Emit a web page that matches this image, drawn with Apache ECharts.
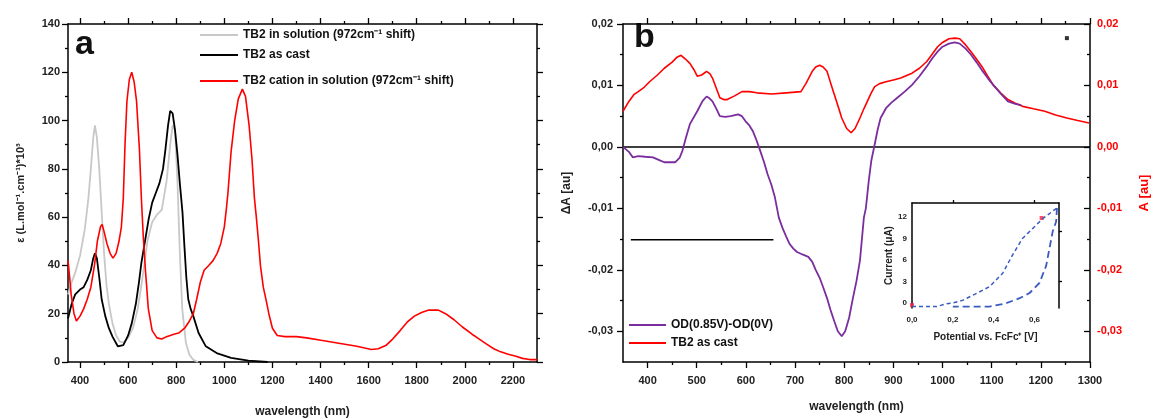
<!DOCTYPE html>
<html><head><meta charset="utf-8">
<script src="https://cdn.jsdelivr.net/npm/echarts@6/dist/echarts.min.js"></script>
<style>html,body{margin:0;padding:0;background:#fff}#c{width:1158px;height:419px}</style>
</head><body><div id="c"></div>
<script>
// ---------- Panel a data ----------
const solWl  = [350,365,380,400,420,435,445,455,462,470,480,490,500,510,520,535,550,565,580,600,620,640,660,680,700,720,740,760,775,785,795,805,815,825,840,855,870,890];
const solEps = [28,33,37,44,55,68,80,93,98,93,80,62,45,32,24,16,11,8.5,8,10,14,22,35,50,58,61,63,75,90,98,96,75,45,22,8,3,1,0];
const castWl  = [350,365,380,400,415,430,445,455,462,470,480,490,505,520,535,557,580,600,615,632,645,655,670,685,700,715,730,745,755,766,775,785,795,805,815,826,834,842,850,860,871,893,923,968,1028,1100,1180];
const castEps = [18,24,28,30,31,34,38,43,45,43,35,26,19,14,10.5,6.5,7,11,16,24,33,41,50,59,66,70,74,80,88,98,104,103,96,86,74,62,48,35,26,22,19,12,6.5,3.7,1.7,0.6,0];
const catWl  = [350,357,363,375,385,400,415,430,445,460,472,485,492,500,512,525,537,550,562,572,580,587,595,605,615,625,635,647,655,663,672,684,700,720,740,760,790,810,835,855,871,885,900,916,935,953,970,985,1000,1008,1015,1028,1043,1058,1075,1088,1103,1115,1125,1133,1142,1150,1162,1175,1185,1200,1220,1252,1300,1342,1402,1476,1551,1611,1640,1671,1700,1731,1760,1790,1820,1850,1890,1920,1955,1990,2030,2060,2089,2120,2149,2180,2209,2240,2270,2300];
const catEps = [42,35,28,20,17,19,22,26,31,40,50,56,57,54,49,45,43,45,50,56,68,90,108,117,120,116,108,88,68,52,38,22,13,10,9.5,10.5,11.5,12,14,17,20,26,33,38,40,42,45,49,56,63,70,87,100,109,113,110,98,84,68,60,50,40,31,25,20,14,11,10.5,10.5,10,9,7.8,6.5,5.2,5.5,6.8,9.5,13,16.5,19,20.5,21.5,21.5,20,17.5,14.5,11.5,9.5,7.5,5.5,4.2,3.2,2.5,1.5,1,1];
const aXLabels = [400,600,800,1000,1200,1400,1600,1800,2000,2200];
const aXMinor  = [500,700,900,1100,1300,1500,1700,1900,2100];

// ---------- Panel b data ----------
const diffWl = [350,362,370,381,395,411,425,434,456,465,471,478,486,501,512,520,526,532,540,547,558,569,584,592,599,607,614,622,629,637,644,652,659,667,674,682,689,697,704,715,727,735,742,750,757,765,772,780,787,795,802,810,817,825,832,840,844,850,855,862,868,874,885,896,908,923,938,953,968,980,990,1000,1013,1025,1035,1047,1058,1069,1080,1092,1103,1118,1133,1148,1160];
const diffDA = [0,-0.0008,-0.0017,-0.0015,-0.0016,-0.0017,-0.0022,-0.0025,-0.0025,-0.0018,-0.0006,0.0015,0.0037,0.0058,0.0075,0.0082,0.0079,0.0074,0.0062,0.005,0.0049,0.005,0.0053,0.005,0.0042,0.0035,0.0026,0.001,-0.0006,-0.0025,-0.0044,-0.0062,-0.0082,-0.0115,-0.0131,-0.0146,-0.0158,-0.0166,-0.0171,-0.0175,-0.0179,-0.0187,-0.02,-0.0213,-0.0228,-0.0246,-0.0265,-0.0284,-0.03,-0.0308,-0.03,-0.0278,-0.0249,-0.0218,-0.0185,-0.0115,-0.01,-0.0055,-0.0023,0.0004,0.0028,0.0047,0.0063,0.0072,0.008,0.009,0.0101,0.0115,0.0131,0.0145,0.0155,0.0163,0.0168,0.017,0.0168,0.016,0.015,0.0138,0.0125,0.0112,0.0101,0.0087,0.0074,0.007,0.0068];
const filmWl = [350,362,372,381,393,404,420,434,450,460,468,477,486,494,501,510,520,527,532,540,547,555,562,577,592,607,622,652,682,712,722,735,742,750,757,765,772,780,788,795,805,814,822,832,840,847,855,862,872,885,900,915,938,953,968,980,990,1000,1013,1025,1035,1047,1058,1069,1080,1092,1103,1118,1133,1148,1163,1185,1208,1230,1253,1275,1298];
const filmA  = [0.0058,0.0074,0.0085,0.009,0.0097,0.0106,0.0117,0.0128,0.0138,0.0146,0.0149,0.0143,0.0136,0.0126,0.0115,0.0117,0.0123,0.0119,0.0112,0.0095,0.008,0.0077,0.0077,0.0083,0.009,0.009,0.0088,0.0086,0.0088,0.009,0.0103,0.0123,0.013,0.0133,0.013,0.0123,0.0105,0.0085,0.0065,0.0047,0.003,0.0023,0.003,0.0047,0.0062,0.0074,0.0088,0.0098,0.0103,0.0106,0.0109,0.0112,0.012,0.0128,0.0139,0.0152,0.0163,0.017,0.0176,0.0177,0.0176,0.0166,0.0155,0.0143,0.0131,0.0115,0.0101,0.0088,0.0077,0.0071,0.0066,0.0062,0.0058,0.0052,0.0047,0.0043,0.0039];
const zeroLineWl = [350,1300];
const barWl = [366,656];
const barDA = -0.0151;
const dotPoint = [1253,0.0177];
const bXLabels = [400,500,600,700,800,900,1000,1100,1200,1300];
const bXMinor  = [450,550,650,750,850,950,1050,1150,1250];
const bYLabels = [-0.03,-0.02,-0.01,0,0.01,0.02];
const bYMinor  = [-0.025,-0.015,-0.005,0.005,0.015];

// ---------- Inset (cyclic voltammogram) ----------
const cvFwdV = [0,0.12,0.17,0.2,0.25,0.32,0.38,0.445,0.49,0.54,0.59,0.64,0.71];
const cvFwdI = [-0.5,-0.5,-0.1,0,0.4,1.4,2.3,4.2,6.6,9.0,10.4,11.8,13.3];
const cvRevV = [0.71,0.706,0.689,0.673,0.657,0.624,0.576,0.527,0.46,0.38,0.2];
const cvRevI = [13.3,11.4,10,7.6,5.2,2.8,1.4,0.67,-0.05,-0.5,-0.5];
const cvMarks = [[0,-0.3],[0.635,11.9]];
const insetXLabels = [0,0.2,0.4,0.6];
const insetYLabels = [0,3,6,9,12];

const zip = (a,b) => a.map((v,i)=>[v, Array.isArray(b)? b[i] : b]);
const FONT = '"Liberation Sans", Arial, sans-serif';
const lab = {fontSize:11, fontWeight:'bold', color:'#222', fontFamily:FONT};
const comma2 = v => v.toFixed(2).replace('.', ',');
const plain = v => String(Math.round(v));
const blackLine = {show:true, onZero:false, lineStyle:{color:'#000', width:1.5}};
const hiddenLine = {show:false, onZero:false};

const chart = echarts.init(document.getElementById('c'), null, {renderer:'canvas'});

const G_A = {left:68, top:24, width:469, height:338};
const G_B = {left:623, top:24, width:467, height:338};
const G_I = {left:912, top:203, width:147, height:105};

function ax(gi, pos, min, max, ticks, labels, o) {
  o = o || {};
  return Object.assign({
    type:'value', gridIndex:gi, position:pos, min, max,
    axisLine: o.noLine ? hiddenLine : blackLine,
    axisTick: ticks ? {show:true, customValues:ticks, length:o.tl||6, inside:!!o.inside, lineStyle:{color:'#000', width:1.3}} : {show:false},
    axisLabel: labels ? Object.assign({show:true, customValues:labels, margin:o.margin||13}, lab, o.label||{}) : {show:false},
    splitLine:{show:false}, minorTick:{show:false}
  }, o.extra||{});
}
const gridOpt = g => Object.assign({outerBoundsMode:'none', containLabel:false}, g);
const nameStyle = {fontSize:12, fontWeight:'bold', color:'#222'};

const option = {
  animation:false,
  backgroundColor:'#fff',
  textStyle:{fontFamily:FONT},
  grid:[gridOpt(G_A), gridOpt(G_A), gridOpt(G_B), gridOpt(G_B), gridOpt(G_I)],
  xAxis:[
    ax(0,'bottom',350,2300,aXLabels,aXLabels,{label:{formatter:plain}, extra:{name:'wavelength (nm)', nameLocation:'middle', nameGap:44, nameTextStyle:nameStyle}}),
    ax(0,'top',350,2300,aXLabels,null),
    ax(1,'bottom',350,2300,aXMinor,null,{noLine:true, tl:3}),
    ax(1,'top',350,2300,aXMinor,null,{noLine:true, tl:3}),
    ax(2,'bottom',350,1300,bXLabels,bXLabels,{label:{formatter:plain}, extra:{name:'wavelength (nm)', nameLocation:'middle', nameGap:39, nameTextStyle:nameStyle}}),
    ax(2,'top',350,1300,bXLabels,null),
    ax(3,'bottom',350,1300,bXMinor,null,{noLine:true, tl:3}),
    ax(3,'top',350,1300,bXMinor,null,{noLine:true, tl:3}),
    ax(4,'bottom',0,0.72,null,insetXLabels,{noLine:true, margin:8, label:{fontSize:8, formatter:v=>v.toFixed(1).replace('.',',')},
      extra:{name:'Potential vs. FcFc\u207A [V]', nameLocation:'middle', nameGap:24, nameTextStyle:{fontSize:10, fontWeight:'bold', color:'#222'}}}),
    ax(4,'top',0,0.72,[0.2,0.6],null,{tl:3})
  ],
  yAxis:[
    {type:'value', gridIndex:0, position:'left', min:0, max:140, interval:20,
      axisLine:blackLine, axisTick:{show:true, length:6, lineStyle:{color:'#000', width:1.3}},
      minorTick:{show:true, splitNumber:2, length:3, lineStyle:{color:'#000', width:1.3}},
      axisLabel:Object.assign({margin:8}, lab), splitLine:{show:false}, minorSplitLine:{show:false},
      name:'\u03B5 (L.mol\u207B\u00B9.cm\u207B\u00B9)*10\u00B3', nameLocation:'middle', nameGap:42, nameRotate:90,
      nameTextStyle:{fontSize:11, fontWeight:'bold', color:'#222'}},
    {type:'value', gridIndex:0, position:'right', min:0, max:140, interval:20,
      axisLine:blackLine, axisTick:{show:true, length:6, lineStyle:{color:'#000', width:1.3}},
      minorTick:{show:true, splitNumber:2, length:3, lineStyle:{color:'#000', width:1.3}},
      axisLabel:{show:false}, splitLine:{show:false}},
    ax(2,'left',-0.035,0.02,bYLabels,bYLabels,{margin:10, label:{formatter:comma2},
      extra:{name:'\u0394A [au]', nameLocation:'middle', nameGap:50, nameRotate:90, nameTextStyle:nameStyle}}),
    ax(2,'right',-0.035,0.02,bYLabels,bYLabels,{margin:7, inside:true, label:{formatter:comma2, color:'#ff0000'},
      extra:{name:'A [au]', nameLocation:'middle', nameGap:48, nameRotate:90, nameTextStyle:{fontSize:13, fontWeight:'bold', color:'#ff0000'}}}),
    ax(3,'left',-0.035,0.02,bYMinor,null,{noLine:true, tl:3}),
    ax(3,'right',-0.035,0.02,bYMinor,null,{noLine:true, tl:3, inside:true}),
    ax(4,'left',-0.7,14,null,insetYLabels,{margin:5, label:{fontSize:8},
      extra:{name:'Current (\u03BCA)', nameLocation:'middle', nameGap:17, nameRotate:90, nameTextStyle:{fontSize:10, fontWeight:'bold', color:'#222'}}}),
    ax(4,'right',-0.7,14,[3,10],null,{tl:3}),
    {type:'value', gridIndex:1, position:'left', min:0, max:140, show:false}
  ],
  legend:[
    {left:200, top:28, orient:'vertical', padding:0, itemGap:6, itemWidth:38, itemHeight:2, icon:'rect',
      textStyle:{fontSize:12, fontWeight:'bold', color:'#111', lineHeight:14},
      data:['TB2 in solution (972cm\u207B\u00B9 shift)','TB2 as cast']},
    {left:200, top:74, orient:'vertical', padding:0, itemGap:6, itemWidth:38, itemHeight:2, icon:'rect',
      textStyle:{fontSize:12, fontWeight:'bold', color:'#111', lineHeight:14},
      data:['TB2 cation in solution (972cm\u207B\u00B9 shift)']},
    {left:629, top:318, orient:'vertical', padding:0, itemGap:4, itemWidth:37, itemHeight:2, icon:'rect',
      textStyle:{fontSize:12, fontWeight:'bold', color:'#111', lineHeight:14},
      data:['OD(0.85V)-OD(0V)','TB2 as cast ']}
  ],
  graphic:[
    {type:'text', left:75, top:28, style:{text:'a', font:'bold 34px '+FONT, fill:'#111'}},
    {type:'text', left:634, top:21, style:{text:'b', font:'bold 34px '+FONT, fill:'#111'}}
  ],
  series:[
    {name:'TB2 in solution (972cm\u207B\u00B9 shift)', type:'line', xAxisIndex:0, yAxisIndex:0, data:zip(solWl,solEps),
      showSymbol:false, lineStyle:{color:'#c8c8c8', width:1.8}, itemStyle:{color:'#c8c8c8'}},
    {name:'TB2 as cast', type:'line', xAxisIndex:0, yAxisIndex:0, data:zip(castWl,castEps),
      showSymbol:false, lineStyle:{color:'#000', width:1.8}, itemStyle:{color:'#000'}},
    {name:'TB2 cation in solution (972cm\u207B\u00B9 shift)', type:'line', xAxisIndex:0, yAxisIndex:0, data:zip(catWl,catEps),
      showSymbol:false, lineStyle:{color:'#ff0000', width:1.6}, itemStyle:{color:'#ff0000'}},
    {name:'zero', type:'line', xAxisIndex:4, yAxisIndex:2, data:zip(zeroLineWl,0), showSymbol:false, silent:true,
      lineStyle:{color:'#000', width:1.5}},
    {name:'bar', type:'line', xAxisIndex:4, yAxisIndex:2, data:zip(barWl,barDA), showSymbol:false, silent:true,
      lineStyle:{color:'#000', width:1.5}},
    {name:'dot', type:'scatter', xAxisIndex:4, yAxisIndex:2, data:[dotPoint], symbol:'rect', symbolSize:4,
      itemStyle:{color:'#000'}},
    {name:'TB2 as cast ', type:'line', xAxisIndex:4, yAxisIndex:3, data:zip(filmWl,filmA),
      showSymbol:false, lineStyle:{color:'#ff0000', width:1.6}, itemStyle:{color:'#ff0000'}},
    {name:'OD(0.85V)-OD(0V)', type:'line', xAxisIndex:4, yAxisIndex:2, data:zip(diffWl,diffDA),
      showSymbol:false, lineStyle:{color:'#7a2e9e', width:1.8}, itemStyle:{color:'#7a2e9e'}},
    {name:'cvFwd', type:'line', xAxisIndex:8, yAxisIndex:6, data:zip(cvFwdV,cvFwdI), showSymbol:false,
      lineStyle:{color:'#3a5bbf', width:1.5, type:[4,3]}},
    {name:'cvRev', type:'line', xAxisIndex:8, yAxisIndex:6, data:zip(cvRevV,cvRevI), showSymbol:false,
      lineStyle:{color:'#3a5bbf', width:1.8, type:[7,4]}},
    {name:'cvMarks', type:'scatter', xAxisIndex:8, yAxisIndex:6, data:cvMarks, symbol:'rect', symbolSize:4,
      itemStyle:{color:'#ff2040'}}
  ]
};
chart.setOption(option);
</script>
</body></html>
